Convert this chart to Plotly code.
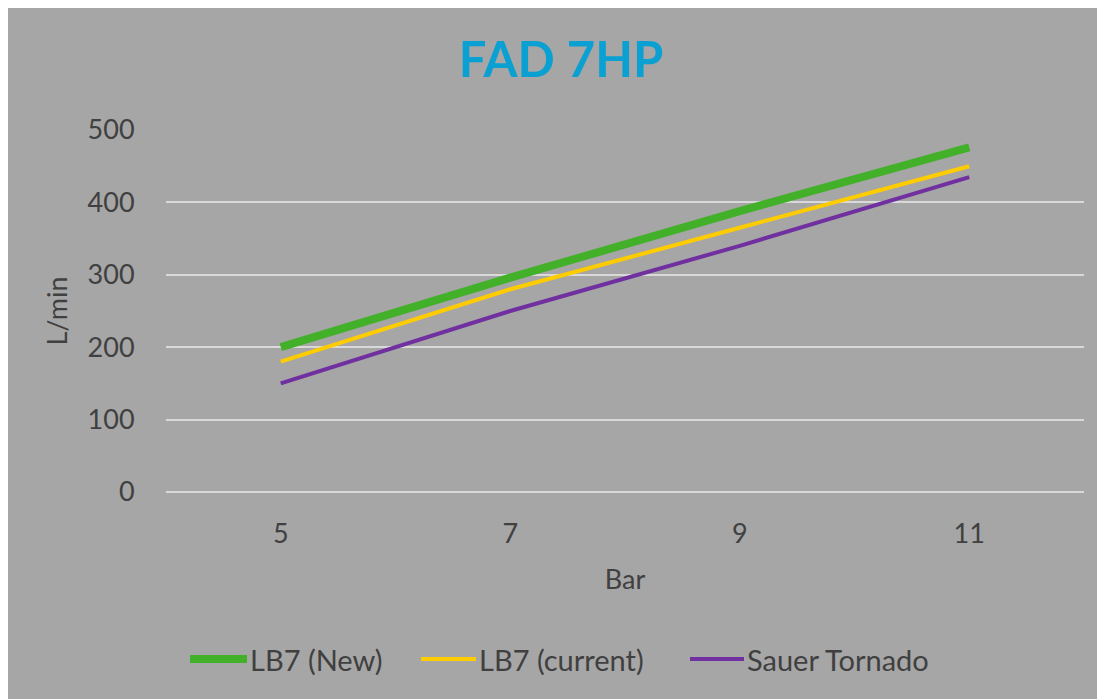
import plotly.graph_objects as go

categories = ["5", "7", "9", "11"]
series_names = ["LB7 (New)", "LB7 (current)", "Sauer Tornado"]
lb7_new = [200, 296, 388, 476]
lb7_current = [180, 280, 365, 450]
sauer_tornado = [150, 250, 340, 435]
y_ticks = [0, 100, 200, 300, 400, 500]

FONT = "Lato"
TXT = "#404040"
BG = "#A6A6A6"
GRID = "#D9D9D9"
colors = ["#43B02A", "#FFCC00", "#7030A0"]
widths = [8, 4, 4]

W, H = 1097, 691
L, R, T, B = 158, 21, 122, 207
PW, PH = W - L - R, H - T - B

fig = go.Figure()
for name, vals, c, w in zip(series_names, [lb7_new, lb7_current, sauer_tornado], colors, widths):
    fig.add_trace(go.Scatter(x=categories, y=vals, mode="lines", name=name,
                             line=dict(color=c, width=w), showlegend=False))

# manual legend (line samples + labels), positions in pixels of the figure
legend_line_x = [(182, 239), (413, 468), (682, 736)]
legend_y = 651
shapes = []
annotations = []
for name, c, w, (x0, x1) in zip(series_names, colors, widths, legend_line_x):
    yp = (H - B - legend_y) / PH
    shapes.append(dict(type="line", xref="paper", yref="paper",
                       x0=(x0 - L) / PW, x1=(x1 - L) / PW, y0=yp, y1=yp,
                       line=dict(color=c, width=w)))
    annotations.append(dict(text=name, xref="paper", yref="paper",
                            x=(x1 + 1 - L) / PW, y=yp, xanchor="left", yanchor="middle",
                            showarrow=False, font=dict(family=FONT, size=29, color=TXT)))

fig.update_layout(
    width=W, height=H,
    margin=dict(l=L, r=R, t=T, b=B),
    paper_bgcolor=BG, plot_bgcolor=BG,
    font=dict(family=FONT, size=27, color=TXT),
    title=dict(text="<b>FAD 7HP</b>", font=dict(family=FONT, size=49, color="#0AA0D2"),
               x=553 / W, xref="container", xanchor="center",
               y=1 - 52 / H, yref="container", yanchor="middle"),
    showlegend=False,
    xaxis=dict(type="category", range=[-0.5, 3.5], showgrid=False, zeroline=False,
               showline=False, ticks="outside", ticklen=18, tickcolor="rgba(0,0,0,0)",
               tickfont=dict(family=FONT, size=27, color=TXT),
               title=dict(text="Bar", standoff=21, font=dict(family=FONT, size=27, color=TXT))),
    yaxis=dict(range=[0, 500], tickvals=y_ticks, showgrid=True, gridcolor=GRID, gridwidth=2,
               zeroline=True, zerolinecolor=GRID, zerolinewidth=2, showline=False,
               ticks="outside", ticklen=25, tickcolor="rgba(0,0,0,0)",
               tickfont=dict(family=FONT, size=27, color=TXT),
               title=dict(text="L/min", standoff=12, font=dict(family=FONT, size=27, color=TXT))),
    shapes=shapes,
    annotations=annotations,
)

fig.write_html("out.html")
